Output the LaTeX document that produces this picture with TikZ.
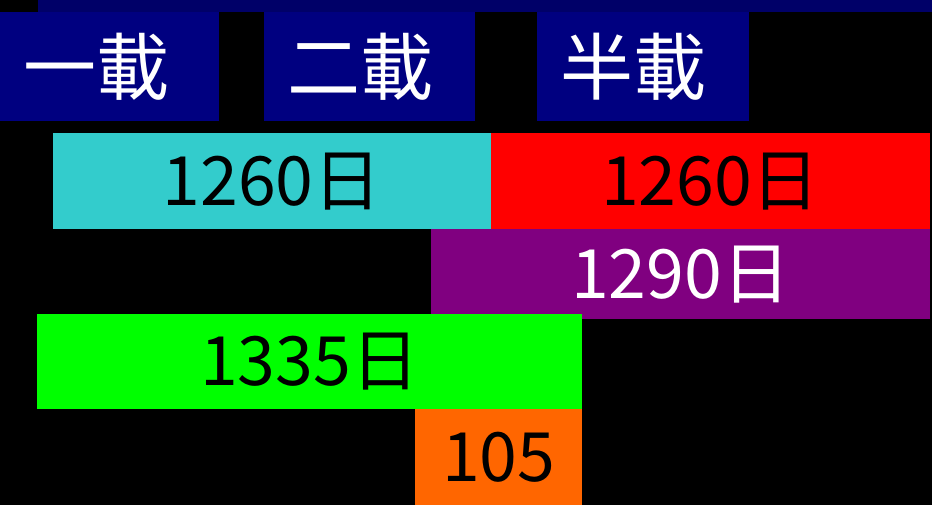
\documentclass[tikz,border=0pt]{standalone}
\usepackage{fontspec}
\setmainfont{Noto Sans CJK TC}
\usepackage{xcolor}
\definecolor{StripNavy}{HTML}{000068}
\definecolor{BoxNavy}{HTML}{000080}
\definecolor{SpanCyan}{HTML}{33CCCC}
\definecolor{SpanRed}{HTML}{FF0000}
\definecolor{SpanPurple}{HTML}{800080}
\definecolor{SpanGreen}{HTML}{00FF00}
\definecolor{SpanOrange}{HTML}{FF6600}
\usetikzlibrary{positioning}

\tikzset{
  timebox/.style={fill=BoxNavy, text=white, anchor=north west, inner xsep=23pt, inner ysep=0pt,
    minimum height=109pt, align=left, font=\fontsize{73}{73}\selectfont},
  spanbar/.style={anchor=north west, inner sep=0pt, align=center, font=\fontsize{68}{68}\selectfont}
}

\begin{document}
\begin{tikzpicture}[x=1pt, y=-1pt]
        % Fond noir et cadre
        \fill[black] (0,0) rectangle (932,505);
        \useasboundingbox (0,0) rectangle (932,505);
        \fill[StripNavy] (38,0) rectangle (932,12);

        % Temps (boîtes du haut)
        \node[timebox, text width=173pt] (t1) at (0,12) {一載};
        \node[timebox, text width=165pt] (t2) at (264,12) {二載};
        \node[timebox, text width=166pt] (t3) at (537,12) {半載};

        % Périodes de jours
        \node[spanbar, fill=SpanCyan, minimum width=438pt, minimum height=96pt] (d1) at (53,133) {1260日};
        \node[spanbar, fill=SpanRed, minimum width=439pt, minimum height=96pt, right=-0.6pt of d1] (d2) {1260日};
        \node[spanbar, fill=SpanPurple, text=white, minimum width=499pt, minimum height=90pt] (d3) at (431,229) {1290日};
        \node[spanbar, fill=SpanGreen, minimum width=545pt, minimum height=95pt] (d4) at (37,314) {1335日};
        \node[spanbar, fill=SpanOrange, minimum width=167pt, minimum height=96pt] (d5) at (415,409) {105};
    \end{tikzpicture}
\end{document}
